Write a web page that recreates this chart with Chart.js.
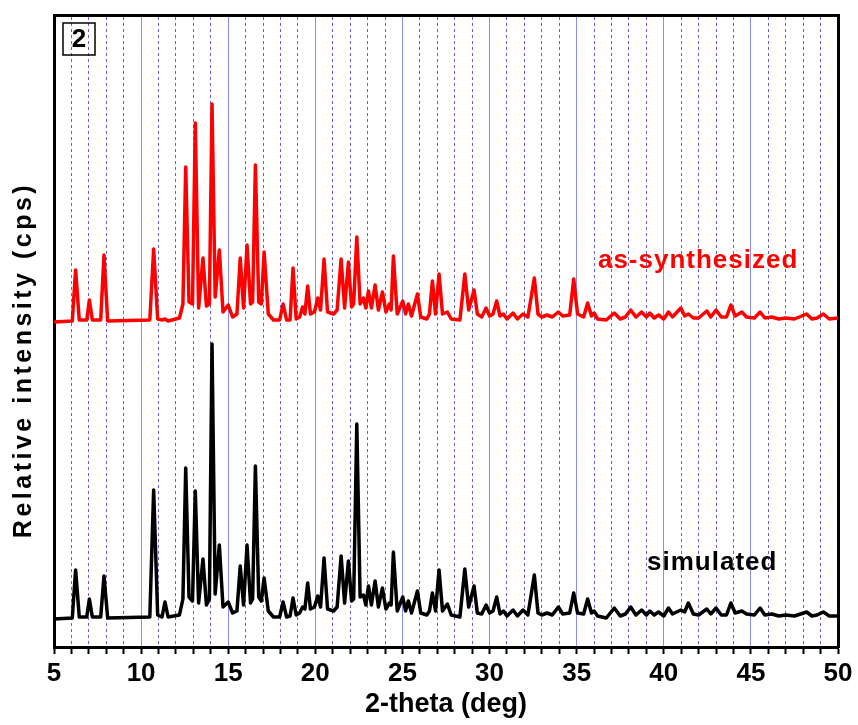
<!DOCTYPE html>
<html>
<head>
<meta charset="utf-8">
<script src="https://cdn.jsdelivr.net/npm/chart.js@4.4.1/dist/chart.umd.min.js"></script>
<style>
  html, body { margin: 0; padding: 0; background: #fff; }
  #wrap { width: 858px; height: 725px; position: relative; }
</style>
</head>
<body>
<div id="wrap"><canvas id="xrd"></canvas></div>
<script>
// ── Data ─────────────────────────────────────────────────────────────────────
// shared 2-theta grid: peak tops and the valleys/feet between them
const twoTheta = [
  5.0, 6.05, 6.24, 6.45, 6.88, 7.03, 7.2, 7.68, 7.87, 8.08,
  10.5, 10.72, 10.95, 11.2, 11.37, 11.55, 12.2, 12.4, 12.56, 12.75,
  12.95, 13.11, 13.3, 13.55, 13.75, 13.92, 14.07, 14.25, 14.49, 14.7,
  15.0, 15.25, 15.5, 15.69, 15.88, 16.08, 16.28, 16.4, 16.56, 16.75,
  16.9, 17.06, 17.3, 17.6, 17.95, 18.15, 18.35, 18.55, 18.72, 18.9,
  19.1, 19.27, 19.4, 19.56, 19.72, 19.95, 20.14, 20.3, 20.5, 20.7,
  21.05, 21.25, 21.48, 21.68, 21.9, 22.08, 22.2, 22.38, 22.57, 22.76,
  22.9, 23.05, 23.22, 23.43, 23.62, 23.85, 24.05, 24.25, 24.35, 24.48,
  24.7, 25.02, 25.18, 25.34, 25.52, 25.86, 26.05, 26.4, 26.55, 26.72,
  26.9, 27.1, 27.3, 27.58, 27.8, 28.3, 28.58, 28.8, 29.11, 29.3,
  29.55, 29.8, 30.0, 30.2, 30.41, 30.6, 30.8, 31.0, 31.35, 31.6,
  31.92, 32.2, 32.57, 32.78, 33.0, 33.3, 33.6, 33.95, 34.2, 34.6,
  34.83, 35.05, 35.4, 35.63, 35.85, 36.0, 36.2, 36.7, 37.16, 37.5,
  37.8, 38.1, 38.4, 38.73, 39.0, 39.2, 39.45, 39.7, 40.0, 40.27,
  40.5, 40.98, 41.2, 41.41, 41.7, 42.0, 42.47, 42.7, 43.0, 43.3,
  43.6, 43.85, 44.1, 44.48, 44.75, 45.2, 45.53, 45.8, 46.2, 46.6,
  47.0, 47.5, 48.2, 48.5, 48.8, 49.16, 49.5, 50.0
];

// as-synthesized (red), counts above its own baseline
const asSynthesized = [
  0, 1, 52, 2, 2, 22, 2, 2, 67, 1,
  2, 73, 3, 2, 3, 1, 4, 18, 155, 20,
  18, 199, 14, 64, 16, 18, 218, 25, 72, 10,
  17, 5, 8, 64, 14, 77, 18, 20, 157, 20,
  18, 70, 8, 2, 2, 18, 2, 2, 54, 3,
  5, 15, 8, 36, 8, 10, 24, 12, 63, 10,
  8, 12, 63, 14, 60, 15, 18, 85, 18, 24,
  14, 31, 14, 37, 12, 30, 10, 18, 12, 66,
  8, 21, 8, 18, 6, 28, 5, 3, 8, 41,
  8, 48, 8, 10, 3, 2, 48, 12, 32, 8,
  5, 14, 6, 8, 21, 6, 8, 3, 9, 3,
  8, 5, 44, 8, 5, 7, 5, 10, 6, 7,
  43, 8, 5, 19, 6, 9, 3, 2, 9, 3,
  5, 12, 5, 10, 5, 9, 4, 7, 3, 10,
  5, 14, 6, 8, 4, 4, 11, 5, 12, 5,
  5, 17, 6, 10, 5, 4, 10, 4, 5, 3,
  4, 3, 8, 3, 4, 8, 3, 4
];

// simulated (black)
const simulated = [
  0, 1, 49, 2, 2, 20, 2, 2, 43, 1,
  2, 129, 4, 2, 17, 2, 4, 20, 151, 22,
  18, 128, 16, 60, 14, 20, 275, 25, 74, 12,
  17, 6, 8, 53, 14, 74, 16, 20, 153, 22,
  18, 41, 8, 2, 2, 17, 2, 3, 21, 4,
  6, 12, 10, 36, 10, 12, 23, 12, 61, 10,
  8, 12, 63, 16, 58, 18, 20, 195, 22, 24,
  14, 33, 14, 38, 12, 31, 10, 16, 14, 67,
  8, 22, 8, 18, 6, 28, 6, 4, 8, 26,
  8, 49, 8, 15, 4, 2, 50, 12, 33, 6,
  5, 14, 6, 8, 22, 5, 8, 3, 9, 3,
  9, 4, 44, 6, 4, 6, 4, 12, 5, 6,
  26, 6, 5, 20, 6, 8, 3, 1, 11, 3,
  5, 12, 4, 9, 4, 8, 4, 7, 3, 11,
  5, 9, 7, 16, 5, 4, 10, 5, 11, 4,
  4, 16, 6, 8, 5, 4, 11, 4, 5, 3,
  4, 3, 7, 3, 4, 7, 3, 3
];

const AS_SYNTH_OFFSET = 297;          // vertical stacking of the red pattern
const xTicks = [5, 10, 15, 20, 25, 30, 35, 40, 45, 50];

const FONT = '"Liberation Sans", Arial, sans-serif';
const GRID_MAJOR = 'rgba(120,120,235,0.85)';
const GRID_MINOR = 'rgba(70,70,225,0.85)';

// ── Labels drawn on top (panel tag, series names, y title) ───────────────────
const labelPlugin = {
  id: 'labels',
  afterDraw(chart) {
    const { ctx, chartArea: a, scales: { x, y } } = chart;
    ctx.save();
    ctx.textBaseline = 'alphabetic';

    ctx.font = 'bold 26px ' + FONT;
    ctx.letterSpacing = '1px';
    ctx.fillStyle = '#ff0000';
    ctx.fillText('as-synthesized', x.getPixelForValue(36.22), y.getPixelForValue(351));
    ctx.fillStyle = '#000';
    ctx.fillText('simulated', x.getPixelForValue(39.04), y.getPixelForValue(49));

    // panel tag
    ctx.letterSpacing = '0px';
    ctx.lineWidth = 1.5;
    ctx.strokeStyle = '#000';
    ctx.strokeRect(a.left + 9, a.top + 8, 32, 32);
    ctx.font = 'bold 26px ' + FONT;
    ctx.textAlign = 'center';
    ctx.textBaseline = 'middle';
    ctx.fillText('2', a.left + 25, a.top + 25);

    // y title
    ctx.translate(24, y.getPixelForValue(259));
    ctx.rotate(-Math.PI / 2);
    ctx.font = 'bold 25px ' + FONT;
    ctx.letterSpacing = '3.5px';
    ctx.fillText('Relative intensity (cps)', 0, 0);
    ctx.restore();
  }
};

// ── Chart ────────────────────────────────────────────────────────────────────
function initChart() {
  const toPoints = (ys, off) => twoTheta.map((t, i) => ({ x: t, y: ys[i] + off }));
  const intTicks = (s) => { s.ticks = []; for (let v = 5; v <= 50; v++) s.ticks.push({ value: v }); };

  new Chart(document.getElementById('xrd'), {
    type: 'line',
    data: {
      datasets: [
        {
          label: 'as-synthesized',
          data: toPoints(asSynthesized, AS_SYNTH_OFFSET),
          borderColor: '#ff0000',
          borderWidth: 3.5, tension: 0, pointRadius: 0,
          borderJoinStyle: 'round', borderCapStyle: 'round',
        },
        {
          label: 'simulated',
          data: toPoints(simulated, 0),
          borderColor: '#000000',
          borderWidth: 3.5, tension: 0, pointRadius: 0,
          borderJoinStyle: 'round', borderCapStyle: 'round',
        },
      ],
    },
    options: {
      responsive: true, maintainAspectRatio: false, animation: false,
      layout: { padding: 0 },
      plugins: { legend: { display: false }, tooltip: { enabled: false } },
      scales: {
        x: {
          type: 'linear', position: 'bottom', min: 5, max: 50,
          afterBuildTicks: intTicks,
          ticks: {
            autoSkip: false, maxRotation: 0, color: '#000', padding: 4,
            font: { family: FONT, size: 26, weight: 'bold' },
            callback: (v) => xTicks.includes(v) ? String(v) : '',
          },
          grid: {
            color: (c) => (c.tick && c.tick.value % 5 === 0) ? GRID_MAJOR : 'rgba(0,0,0,0)',
            lineWidth: 1, tickColor: '#000', tickLength: 7, tickWidth: 2,
          },
          border: { color: '#000', width: 3 },
          title: {
            display: true, text: '2-theta (deg)', color: '#000', padding: { top: 0 },
            font: { family: FONT, size: 27, weight: 'bold' },
          },
          afterFit: (s) => { s.height = 78; },
        },
        x2: {
          type: 'linear', position: 'top', min: 5, max: 50,
          afterBuildTicks: intTicks,
          ticks: { display: false },
          grid: {
            color: (c) => (c.tick && c.tick.value % 5 !== 0) ? GRID_MINOR : 'rgba(0,0,0,0)',
            lineWidth: 1, drawTicks: false,
          },
          border: { color: '#000', width: 3, dash: [3, 3] },
          afterFit: (s) => { s.height = 15; },
        },
        y: {
          position: 'left', min: -28, max: 604,
          ticks: { display: false },
          grid: { display: false },
          border: { color: '#000', width: 3 },
          afterFit: (s) => { s.width = 54; },
        },
        y2: {
          position: 'right', min: -28, max: 604,
          ticks: { display: false },
          grid: { display: false },
          border: { color: '#000', width: 3 },
          afterFit: (s) => { s.width = 20; },
        },
      },
    },
    plugins: [labelPlugin],
  });
}

document.addEventListener('DOMContentLoaded', initChart);
</script>
</body>
</html>
